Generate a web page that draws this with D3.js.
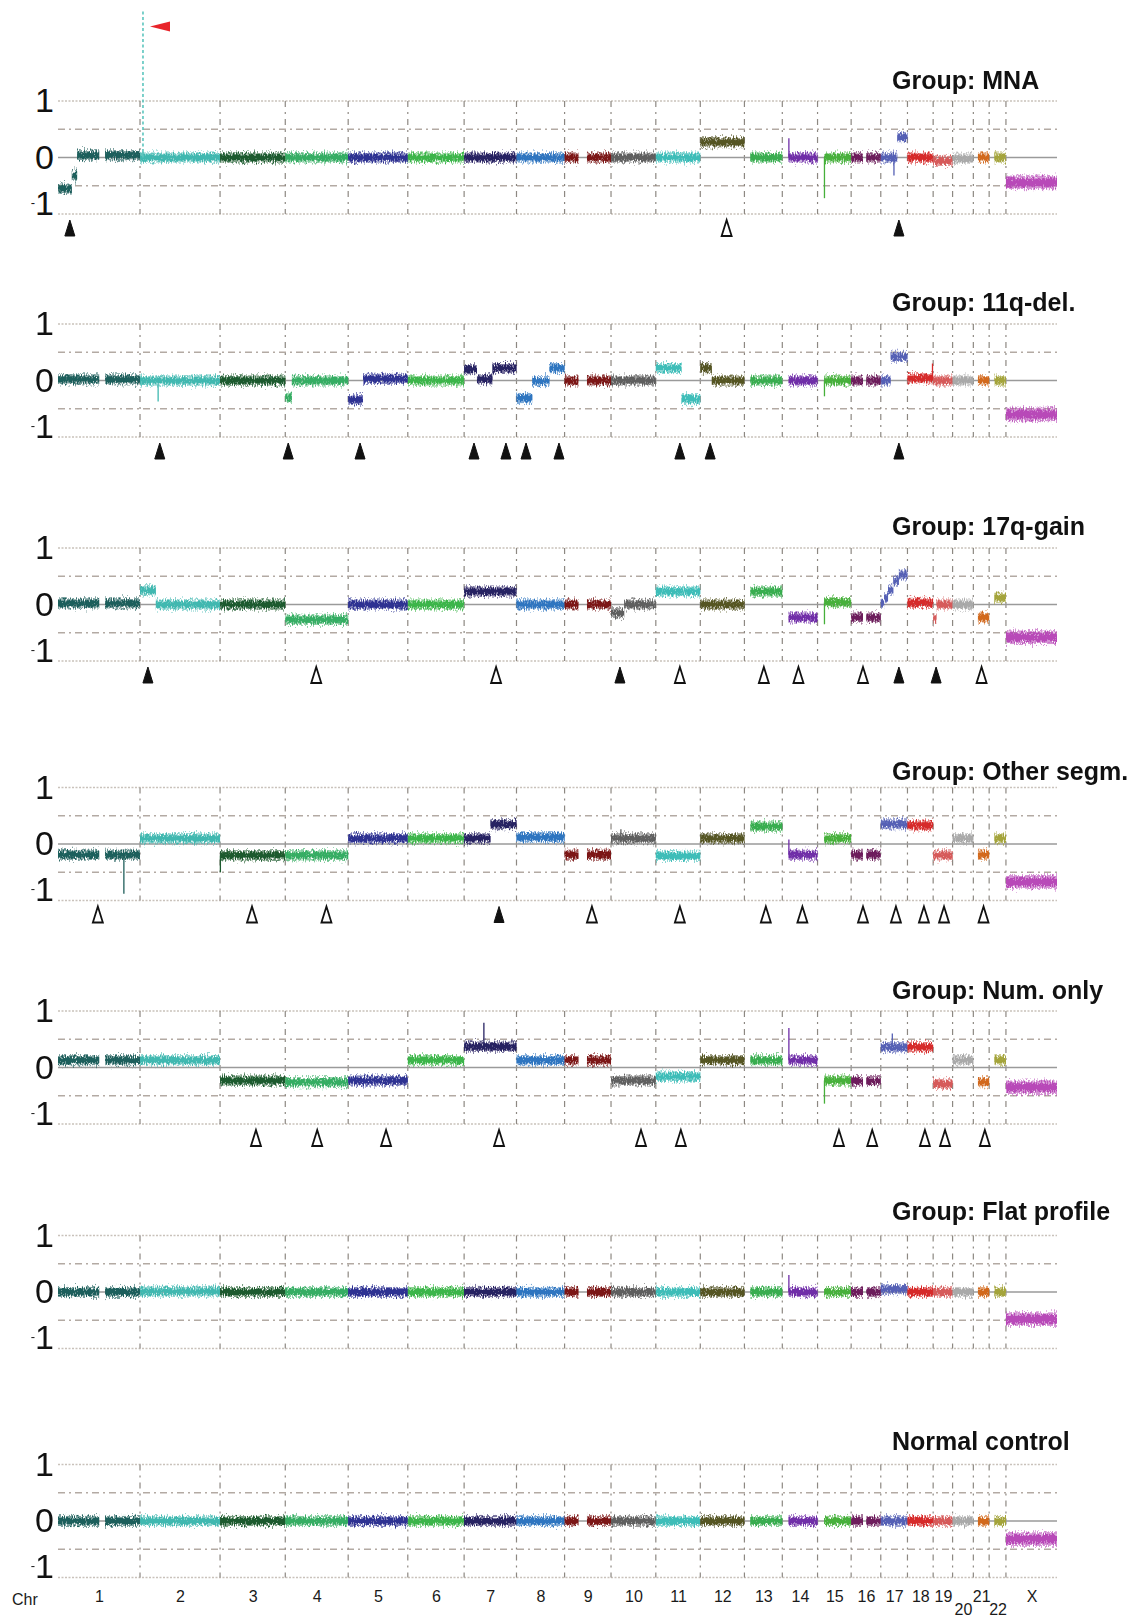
<!DOCTYPE html>
<html>
<head>
<meta charset="utf-8">
<script src="https://cdn.jsdelivr.net/npm/d3@7"></script>
<style>
    body { margin: 0; background: #fff; }
    svg { display: block; font-family: "Liberation Sans", Arial, sans-serif; }
</style>
</head>
<body>
<svg id="chart" width="1142" height="1620"></svg>
<script>
// chromosome layout (Mb)
var chrNames = ["1", "2", "3", "4", "5", "6", "7", "8", "9", "10", "11", "12", "13", "14", "15", "16", "17", "18", "19", "20", "21", "22", "X"];
var chrLength = [249, 243, 198, 191, 181, 171, 159, 146, 141, 136, 135, 134, 115, 107, 102, 90, 81, 78, 59, 63, 48, 51, 155];
var chrDataStart = {"13": 18, "14": 19, "15": 20, "21": 14, "22": 16}; // no probes on acrocentric p-arms
var chrGaps = [["1", 125, 143], ["9", 42, 68], ["16", 36, 46]];
var chrColors = ["#1f5e5b", "#3fb8b0", "#1c5a2e", "#36ad63", "#2e3192", "#3ab54a", "#262262", "#2e75c0",
    "#7b1818", "#5e5e5e", "#3dbdb8", "#545424", "#37ad4f", "#6f2da8", "#46b03a", "#6d1f5c",
    "#5560b5", "#d62a2a", "#d65a5a", "#a9a9a9", "#d2691e", "#a4a43a", "#b848b8"];

var panelTitles = ["Group: MNA", "Group: 11q-del.", "Group: 17q-gain", "Group: Other segm.",
    "Group: Num. only", "Group: Flat profile", "Normal control"];

// whole-chromosome log ratio (1..22, X)
var levelsMNA = [0, 0, 0, 0, 0, 0, 0, 0, 0, 0, 0, 0.27, 0, 0, 0, 0, 0, 0, -0.06, -0.02, 0, 0, -0.44];
var levels11q = [0.02, 0, 0, 0, 0, 0, 0, 0, 0, 0, 0, 0, 0, 0, 0, 0, 0, 0.04, 0, 0, 0, 0, -0.6];
var levels17q = [0.02, 0, 0, -0.27, 0, 0, 0.23, 0, 0, 0, 0.23, 0, 0.23, -0.23, 0.04, -0.23, 0, 0.03, 0, 0, -0.23, 0.12, -0.58];
var levelsOther = [-0.19, 0.1, -0.2, -0.2, 0.1, 0.1, 0, 0.12, -0.19, 0.1, -0.21, 0.1, 0.31, -0.19, 0.1, -0.19, 0.35, 0.33, -0.2, 0.1, -0.19, 0.1, -0.67];
var levelsNum = [0.13, 0.13, -0.23, -0.26, -0.23, 0.13, 0.37, 0.13, 0.13, -0.23, -0.16, 0.13, 0.13, 0.13, -0.23, -0.24, 0.36, 0.36, -0.29, 0.13, -0.26, 0.13, -0.35];
var levelsFlat = [0, 0.01, 0, 0, 0, 0, 0, 0, 0, 0, 0, 0, 0, 0, 0, 0, 0.05, 0, 0, 0, 0, 0, -0.48];
var levelsNormal = [0, 0, 0, 0, 0, 0, 0, 0, 0, 0, 0, 0, 0, 0, 0, 0, 0, 0, 0, 0, 0, 0, -0.32];

// sub-chromosomal segments [chr, start, end, value] replacing the chromosome level
var segmentsMNA = [["1", 0, 42, -0.55], ["1", 42, 58, -0.32], ["1", 58, 249, 0.04], ["17", 0, 50, 0], ["17", 50, 81, 0.36]];
var segments11q = [["4", 0, 20, -0.3], ["4", 20, 191, 0], ["5", 0, 45, -0.34], ["5", 45, 181, 0.03],
    ["7", 0, 39, 0.2], ["7", 39, 86, 0.02], ["7", 86, 159, 0.22], ["8", 0, 48, -0.31], ["8", 48, 100, -0.01],
    ["8", 100, 146, 0.22], ["11", 0, 78, 0.22], ["11", 78, 135, -0.33], ["12", 0, 35, 0.22], ["12", 35, 134, 0],
    ["17", 0, 30, 0], ["17", 30, 81, 0.42]];
var segments17q = [["2", 0, 48, 0.25], ["2", 48, 243, 0], ["10", 0, 40, -0.15], ["10", 40, 136, 0],
    ["17", 0, 10, 0.03], ["17", 10, 22, 0.12], ["17", 22, 38, 0.26], ["17", 38, 55, 0.42], ["17", 55, 81, 0.53],
    ["19", 0, 10, -0.25], ["19", 10, 59, 0]];
var segmentsOther = [["7", 0, 80, 0.1], ["7", 80, 159, 0.35]];
var segmentsNum = [];
var segmentsFlat = [];
var segmentsNormal = [];

// single-probe outliers [chr, pos, from, to]
var spikesMNA = [["14", 20, 0, 0.34], ["15", 21, 0, -0.72], ["17", 40, 0, -0.32]];
var spikes11q = [["2", 55, 0, -0.37], ["15", 21, 0, -0.28], ["18", 76, 0.04, 0.3]];
var spikes17q = [["15", 21, 0.04, -0.35]];
var spikesOther = [["1", 200, -0.19, -0.88], ["3", 1, -0.2, -0.5], ["10", 30, 0.1, 0.26], ["14", 20, -0.19, 0.08]];
var spikesNum = [["7", 60, 0.37, 0.79], ["14", 20, 0.13, 0.7], ["15", 21, -0.23, -0.64], ["17", 35, 0.36, 0.6]];
var spikesFlat = [["14", 20, 0, 0.3]];
var spikesNormal = [];

// MYCN amplification, off the scale
var ampMNA = ["2", 9, 2.6];

// arrowheads under panels [chr, pos, filled]
var arrowsMNA = [["1", 36, 1], ["12", 80, 0], ["17", 55, 1]];
var arrows11q = [["2", 60, 1], ["4", 9, 1], ["5", 36, 1], ["7", 30, 1], ["7", 127, 1], ["8", 29, 1], ["8", 129, 1],
    ["11", 73, 1], ["12", 30, 1], ["17", 55, 1]];
var arrows17q = [["2", 24, 1], ["4", 94, 0], ["7", 97, 0], ["10", 27, 1], ["11", 73, 0], ["13", 59, 0], ["14", 49, 0],
    ["16", 36, 0], ["17", 55, 1], ["19", 9, 1], ["21", 25, 0]];
var arrowsOther = [["1", 121, 0], ["3", 97, 0], ["4", 125, 0], ["7", 106, 1], ["9", 83, 0], ["11", 73, 0], ["13", 65, 0],
    ["14", 61, 0], ["16", 36, 0], ["17", 46, 0], ["18", 50, 0], ["19", 33, 0], ["21", 31, 0]];
var arrowsNum = [["3", 109, 0], ["4", 97, 0], ["5", 115, 0], ["7", 106, 0], ["10", 91, 0], ["11", 76, 0], ["15", 65, 0],
    ["16", 64, 0], ["18", 53, 0], ["19", 36, 0], ["21", 35, 0]];

var panels = [
    {levels: levelsMNA, segments: segmentsMNA, spikes: spikesMNA, arrows: arrowsMNA},
    {levels: levels11q, segments: segments11q, spikes: spikes11q, arrows: arrows11q},
    {levels: levels17q, segments: segments17q, spikes: spikes17q, arrows: arrows17q},
    {levels: levelsOther, segments: segmentsOther, spikes: spikesOther, arrows: arrowsOther},
    {levels: levelsNum, segments: segmentsNum, spikes: spikesNum, arrows: arrowsNum},
    {levels: levelsFlat, segments: segmentsFlat, spikes: spikesFlat, arrows: []},
    {levels: levelsNormal, segments: segmentsNormal, spikes: spikesNormal, arrows: []}
];

// layout
const left = 58, right = 1057, unit = 56.5;
const panelZero = [157.5, 380.5, 604.5, 844, 1067.5, 1292, 1521];
const titleBase = [89, 311, 535, 780, 999, 1220, 1450];

var chrOffset = [0].concat(Array.from(d3.cumsum(chrLength)));
var genomeLength = chrOffset[chrOffset.length - 1];
var xScale = d3.scaleLinear().domain([0, genomeLength]).range([left, right]);

function chrIndex(name) {
    return chrNames.indexOf(name);
}

function gx(chr, pos) {
    return xScale(chrOffset[chrIndex(chr)] + pos);
}

/**
 * Turns levels + breakpoint segments into drawable pieces,
 * cut at the start of probe coverage and at the centromere gaps
 */
function buildPieces(panel) {
    var pieces = [];
    chrNames.forEach((name, ci) => {
        var segs = panel.segments.filter(s => s[0] === name);
        if (!segs.length)
            segs = [[name, 0, chrLength[ci], panel.levels[ci]]];
        var first = chrDataStart[name] || 0;
        var gaps = chrGaps.filter(g => g[0] === name);
        segs.forEach(s => {
            var parts = [[Math.max(s[1], first), s[2]]];
            gaps.forEach(g => {
                var next = [];
                parts.forEach(p => {
                    if (g[2] <= p[0] || g[1] >= p[1]) {
                        next.push(p);
                        return;
                    }
                    if (p[0] < g[1]) next.push([p[0], g[1]]);
                    if (p[1] > g[2]) next.push([g[2], p[1]]);
                });
                parts = next;
            });
            parts.forEach(p => {
                if (p[1] > p[0])
                    pieces.push({ci: ci, x0: chrOffset[ci] + p[0], x1: chrOffset[ci] + p[1], value: s[3],
                        spread: name === "X" ? 0.12 : 0.09});
            });
        });
    });
    return pieces;
}

var svg = d3.select("#chart");

// rough edges for the probe clouds: vertical jitter only
var filter = svg.append("defs").append("filter")
    .attr("id", "noise")
    .attr("filterUnits", "userSpaceOnUse")
    .attr("x", 0).attr("y", 0).attr("width", 1142).attr("height", 1620);
filter.append("feTurbulence")
    .attr("type", "fractalNoise")
    .attr("baseFrequency", "0.9 0.35")
    .attr("numOctaves", 2)
    .attr("seed", 4)
    .attr("result", "n");
filter.append("feColorMatrix")
    .attr("in", "n")
    .attr("type", "matrix")
    .attr("values", "1 0 0 0 0  0 1 0 0 0  0 0 0 0 0.5  0 0 0 0 1")
    .attr("result", "m");
filter.append("feDisplacementMap")
    .attr("in", "SourceGraphic")
    .attr("in2", "m")
    .attr("scale", 11)
    .attr("xChannelSelector", "B")
    .attr("yChannelSelector", "R");

panels.forEach((panel, pi) => {
    var zero = panelZero[pi];
    var y = d3.scaleLinear().domain([-1, 1]).range([zero + unit, zero - unit]);
    var g = svg.append("g").attr("class", "panel");

    // horizontal guides
    g.selectAll(".hgrid")
        .data([1, 0.5, -0.5, -1])
        .enter().append("line")
        .attr("class", "hgrid")
        .attr("x1", left).attr("x2", right)
        .attr("y1", d => y(d)).attr("y2", d => y(d))
        .attr("stroke", d => Math.abs(d) === 1 ? "#c9c2bb" : "#b3aaa3")
        .attr("stroke-width", 1.5)
        .attr("stroke-dasharray", d => Math.abs(d) === 1 ? "2,1.5" : "7,4,2,4");

    // chromosome borders
    g.selectAll(".vgrid")
        .data(chrOffset.slice(1, chrNames.length))
        .enter().append("line")
        .attr("class", "vgrid")
        .attr("x1", d => xScale(d)).attr("x2", d => xScale(d))
        .attr("y1", y(1)).attr("y2", y(-1))
        .attr("stroke", "#8d8882")
        .attr("stroke-width", 1.2)
        .attr("stroke-dasharray", "6,5,2,5");

    g.append("line")
        .attr("x1", left).attr("x2", right)
        .attr("y1", y(0)).attr("y2", y(0))
        .attr("stroke", "#9a9a9a")
        .attr("stroke-width", 1.6);

    // left axis
    var axisG = g.append("g")
        .attr("transform", "translate(" + left + ",0)")
        .call(d3.axisLeft(y).tickValues([1, 0, -1]).tickSize(0).tickPadding(4).tickFormat(d3.format("d")));
    axisG.select(".domain").remove();
    axisG.selectAll(".tick text")
        .attr("font-family", "'Liberation Sans', Arial, sans-serif")
        .attr("font-size", 34)
        .attr("fill", "#111");
    axisG.selectAll(".tick text")
        .filter(d => d === -1)
        .each(function () {
            var t = d3.select(this).text(null);
            t.append("tspan").attr("font-size", 13).attr("dy", -8).text("-");
            t.append("tspan").attr("dy", 8).text("1");
        });

    // probe clouds
    var pieces = buildPieces(panel);
    var bands = g.append("g").attr("filter", "url(#noise)");
    bands.selectAll(".outer")
        .data(pieces)
        .enter().append("rect")
        .attr("class", "outer")
        .attr("x", d => xScale(d.x0))
        .attr("width", d => xScale(d.x1) - xScale(d.x0))
        .attr("y", d => y(d.value + d.spread))
        .attr("height", d => y(d.value - d.spread) - y(d.value + d.spread))
        .attr("fill", d => chrColors[d.ci])
        .attr("opacity", 0.6);
    bands.selectAll(".inner")
        .data(pieces)
        .enter().append("rect")
        .attr("class", "inner")
        .attr("x", d => xScale(d.x0))
        .attr("width", d => xScale(d.x1) - xScale(d.x0))
        .attr("y", d => y(d.value + d.spread * 0.6))
        .attr("height", d => y(d.value - d.spread * 0.6) - y(d.value + d.spread * 0.6))
        .attr("fill", d => chrColors[d.ci]);

    g.selectAll(".spike")
        .data(panel.spikes)
        .enter().append("line")
        .attr("class", "spike")
        .attr("x1", d => gx(d[0], d[1])).attr("x2", d => gx(d[0], d[1]))
        .attr("y1", d => y(d[2])).attr("y2", d => y(d[3]))
        .attr("stroke", d => chrColors[chrIndex(d[0])])
        .attr("stroke-width", 1.3);

    // arrowheads
    var yb = y(-1);
    g.selectAll(".arrow")
        .data(panel.arrows)
        .enter().append("path")
        .attr("class", "arrow")
        .attr("d", d => {
            var x = gx(d[0], d[1]);
            return d3.line()([[x - 5, yb + 22], [x + 5, yb + 22], [x, yb + 6]]) + "Z";
        })
        .attr("fill", d => d[2] ? "#111" : "#fff")
        .attr("stroke", "#111")
        .attr("stroke-width", d => d[2] ? 1 : 1.8)
        .attr("stroke-linejoin", "miter");

    g.append("text")
        .attr("x", 892)
        .attr("y", titleBase[pi])
        .attr("font-size", 25)
        .attr("font-weight", "bold")
        .attr("fill", "#111")
        .text(panelTitles[pi]);

    if (pi === 0) {
        var ax = gx(ampMNA[0], ampMNA[1]);
        g.append("line")
            .attr("x1", ax).attr("x2", ax)
            .attr("y1", y(0)).attr("y2", y(ampMNA[2]))
            .attr("stroke", "#5cc6be")
            .attr("stroke-width", 1.6)
            .attr("stroke-dasharray", "3,2.5");
        var ay = y(ampMNA[2]) + 16;
        g.append("path")
            .attr("d", d3.line()([[ax + 7, ay], [ax + 27, ay - 5], [ax + 27, ay + 5]]) + "Z")
            .attr("fill", "#e8242a");
    }
});

// chromosome labels
var centers = chrNames.map((n, i) => chrOffset[i] + chrLength[i] / 2);
var bottom = svg.append("g")
    .attr("transform", "translate(0,1588)")
    .call(d3.axisBottom(xScale).tickValues(centers).tickSize(0).tickPadding(3).tickFormat((d, i) => chrNames[i]));
bottom.select(".domain").remove();
bottom.selectAll(".tick text")
    .attr("font-family", "'Liberation Sans Narrow', 'Arial Narrow', 'Liberation Sans', Arial, sans-serif")
    .attr("font-size", 16)
    .attr("fill", "#1a1a1a")
    .attr("dy", (d, i) => (chrNames[i] === "20" || chrNames[i] === "22") ? "1.5em" : "0.71em");

svg.append("text")
    .attr("x", 12)
    .attr("y", 1605)
    .attr("font-family", "'Liberation Sans Narrow', 'Arial Narrow', 'Liberation Sans', Arial, sans-serif")
    .attr("font-size", 16)
    .attr("fill", "#1a1a1a")
    .text("Chr");
</script>
</body>
</html>
